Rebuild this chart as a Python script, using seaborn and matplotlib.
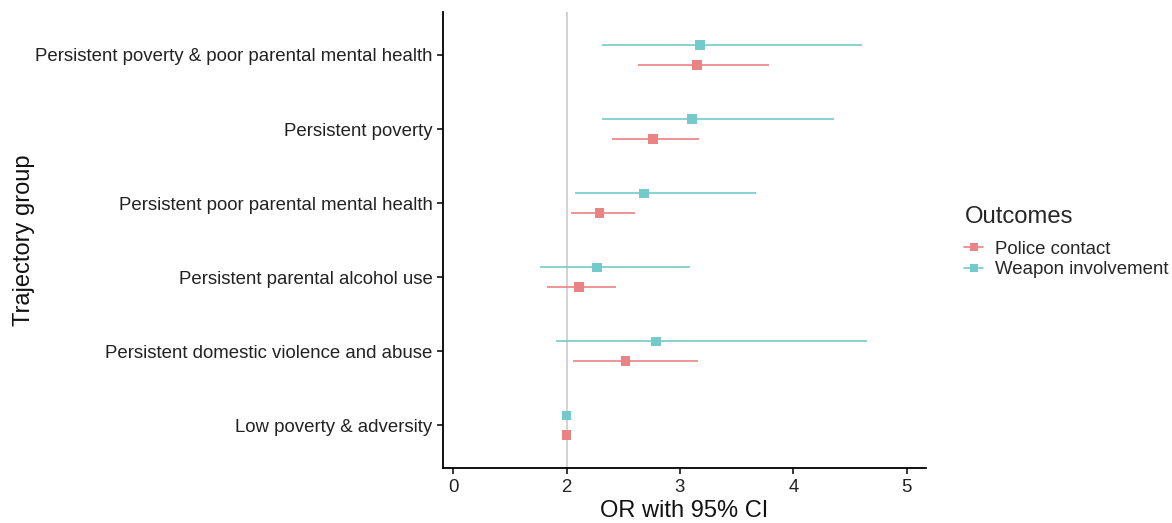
import numpy as np
import pandas as pd
import matplotlib
matplotlib.use("Agg")
import matplotlib.pyplot as plt
import seaborn as sns
from matplotlib.lines import Line2D

# ---- data (in plotted axis units) ----
groups = [
    "Persistent poverty & poor parental mental health",
    "Persistent poverty",
    "Persistent poor parental mental health",
    "Persistent parental alcohol use",
    "Persistent domestic violence and abuse",
    "Low poverty & adversity",
]
police_or = [2.15, 1.76, 1.29, 1.11, 1.52, 1.00]
police_lo = [1.63, 1.40, 1.04, 0.83, 1.06, 1.00]
police_hi = [2.79, 2.17, 1.60, 1.44, 2.16, 1.00]
weapon_or = [2.18, 2.11, 1.68, 1.27, 1.79, 1.00]
weapon_lo = [1.31, 1.31, 1.07, 0.77, 0.91, 1.00]
weapon_hi = [3.61, 3.36, 2.67, 2.09, 3.65, 1.00]
outcomes = ["Police contact", "Weapon involvement"]
x_ticks = [0, 1, 2, 3, 4]
x_ticklabels = ["0", "2", "3", "4", "5"]

colors = {"Police contact": "#EA8383", "Weapon involvement": "#74CACB"}
offsets = {"Police contact": 0.13, "Weapon involvement": -0.13}

rows = []
for i, g in enumerate(groups):
    rows.append(dict(group=g, idx=i, outcome="Police contact",
                     est=police_or[i], lo=police_lo[i], hi=police_hi[i]))
    rows.append(dict(group=g, idx=i, outcome="Weapon involvement",
                     est=weapon_or[i], lo=weapon_lo[i], hi=weapon_hi[i]))
df = pd.DataFrame(rows)
df["y"] = df["idx"] + df["outcome"].map(offsets)

sns.set_theme(style="ticks")
plt.rcParams["font.family"] = ["Liberation Sans", "DejaVu Sans"]

fig = plt.figure(figsize=(11.72, 5.23), dpi=100)
ax = fig.add_axes([0.378, 0.105, 0.412, 0.872])

# reference line at OR = 1
ax.axvline(1, color="#CCCCCC", lw=1.2, zorder=0)

# confidence intervals
for out in outcomes:
    sub = df[df["outcome"] == out]
    ax.hlines(sub["y"], sub["lo"], sub["hi"], color=colors[out], lw=1.2, zorder=1)

# point estimates
sns.scatterplot(data=df, x="est", y="y", hue="outcome", palette=colors,
                marker="s", s=50, linewidth=0, legend=False, ax=ax, zorder=2)

ax.set_xlim(-0.09, 4.17)
ax.set_ylim(len(groups) - 1 + 0.58, -0.58)
ax.set_xticks(x_ticks)
ax.set_xticklabels(x_ticklabels)
ax.set_yticks(range(len(groups)))
ax.set_yticklabels(groups)
ax.tick_params(axis="both", labelsize=13.4, colors="black", length=4, width=1.1,
               labelcolor="#222222")
for sp in ["top", "right"]:
    ax.spines[sp].set_visible(False)
for sp in ["left", "bottom"]:
    ax.spines[sp].set_linewidth(1.3)
    ax.spines[sp].set_color("black")

ax.set_xlabel("OR with 95% CI", fontsize=17, color="#111111", labelpad=3)
ax.set_ylabel("Trajectory group", fontsize=17, color="#111111", labelpad=0)

handles = [Line2D([0], [0], color=colors[o], lw=1.2, marker="s", markersize=6,
                  markeredgewidth=0) for o in outcomes]
leg = fig.legend(handles, outcomes, title="Outcomes", loc="upper left",
                 bbox_to_anchor=(0.8165, 0.62), frameon=False, fontsize=13.4,
                 title_fontsize=17.2, handlelength=1.0, handletextpad=0.65,
                 labelspacing=0.2, borderaxespad=0)
leg._legend_box.align = "left"
leg._legend_box.sep = 9

fig.savefig("out.png", dpi=100)
